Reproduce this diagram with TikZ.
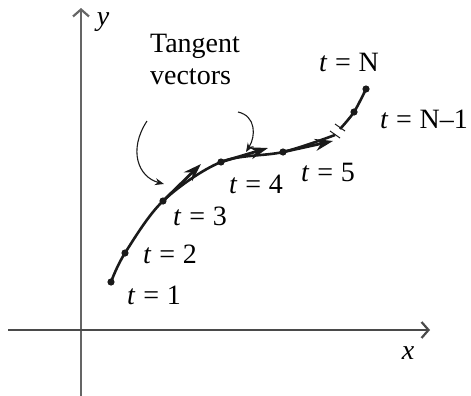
\documentclass[tikz,border=0pt]{standalone}
\usepackage{fontspec}
\setmainfont{Liberation Serif}
\usetikzlibrary{arrows.meta}
\definecolor{axisgray}{HTML}{4A4A4A}
\definecolor{curveblack}{HTML}{1A1A1A}
\tikzset{every node/.append style={font=\fontsize{14}{16}\selectfont}}
\newcommand{\tval}[1]{\textit{t}\;=\;#1}

\begin{document}
\begin{tikzpicture}[x=0.5pt,y=-0.5pt,>=Stealth,
  dot/.style={circle,fill=curveblack,inner sep=0pt,minimum size=3.6pt},
  tanvec/.style={curveblack,line width=1.4pt,-{Stealth[length=9pt,width=6pt]}},
  pointer/.style={curveblack,line width=0.55pt,-{Stealth[length=4.5pt,width=3.5pt]}}]
  \useasboundingbox (0,0) rectangle (471,396);
  % axes
  \draw[axisgray!85,line width=0.9pt,-{Straight Barb[length=3.5pt,width=8pt,line width=1.1pt]}] (81,396)--(81,8);
  \draw[axisgray,line width=0.9pt,-{Straight Barb[length=3.5pt,width=8pt,line width=1.1pt]}] (8,330)--(430,330);
  \node at (103,22) {\textit{y}};
  \node at (408,353) {\textit{x}};
  % points on the curve
  \coordinate (p1) at (111,282);
  \coordinate (p2) at (125,253);
  \coordinate (p3) at (163,201);
  \coordinate (p4) at (221,162);
  \coordinate (p5) at (283,152);
  \coordinate (b1) at (335,135);
  \coordinate (b2) at (340,129);
  \coordinate (pm) at (354,112);
  \coordinate (pn) at (366,89);
  \draw[curveblack,line width=1.3pt] plot[smooth,tension=0.55]
    coordinates {(p1) (p2) (p3) (p4) (p5) (b1)};
  \draw[curveblack,line width=1.3pt] plot[smooth,tension=0.55]
    coordinates {(b2) (pm) (pn)};
  % break marks
  \draw[curveblack,line width=0.5pt] (330,131)--(340,138) (335,124)--(345,131);
  % tangent vectors
  \coordinate (v3) at (201,164);
  \coordinate (v4) at (268,148);
  \coordinate (v5) at (333,141);
  \draw[tanvec] (p3)--(v3);
  \draw[tanvec] (p4)--(v4);
  \draw[tanvec] (p5)--(v5);
  \foreach \p in {p1,p2,p3,p4,p5,pm,pn}
    \node[dot] (d\p) at (\p) {};
  % labels
  \node (l1) at (154,295) {\tval{1}};
  \node (l2) at (170,254) {\tval{2}};
  \node (l3) at (200,216) {\tval{3}};
  \node (l4) at (256,184) {\tval{4}};
  \node (l5) at (328,172) {\tval{5}};
  \node (lm) at (424,119) {\tval{N--1}};
  \node (ln) at (349,62) {\tval{N}};
  \node[align=left] (tv) at (195,59) {Tangent\\vectors};
  \coordinate (a1) at (147,121);
  \coordinate (a2) at (238,112);
  \draw[pointer] (a1) .. controls (128,150) and (138,177) .. (164,184);
  \draw[pointer] (a2) .. controls (256,116) and (256,136) .. (246,152);
\end{tikzpicture}
\end{document}
